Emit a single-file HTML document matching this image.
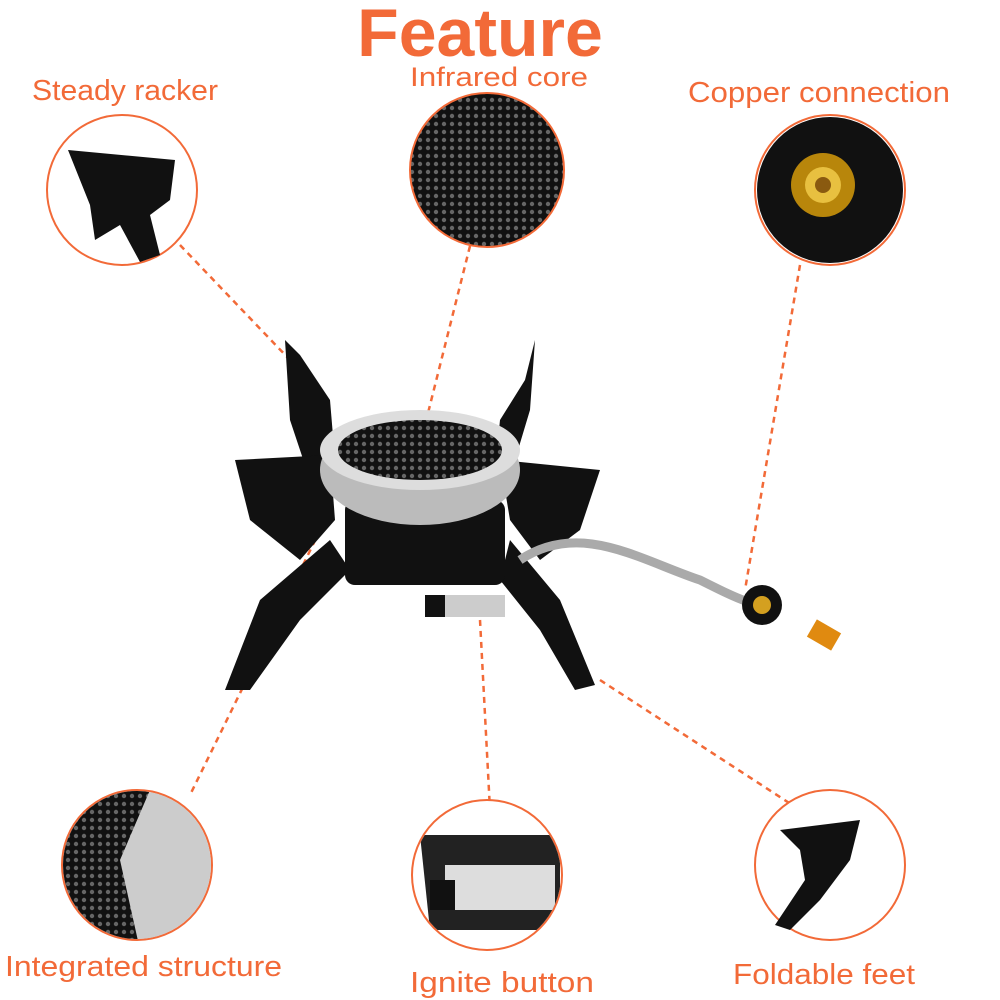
<!DOCTYPE html>
<html><head><meta charset="utf-8"><style>
html,body{margin:0;padding:0;background:#fff;width:1000px;height:1000px;overflow:hidden}
svg{display:block}
text{font-family:"Liberation Sans",sans-serif;fill:#f26a38}
</style></head><body>
<svg width="1000" height="1000" viewBox="0 0 1000 1000" xmlns="http://www.w3.org/2000/svg">
<defs>
<pattern id="hex" width="8" height="8" patternUnits="userSpaceOnUse">
<rect width="8" height="8" fill="#111"/><circle cx="4" cy="4" r="2.2" fill="#666"/>
</pattern>
<clipPath id="c4"><circle cx="137" cy="865" r="74"/></clipPath>
<clipPath id="c5"><circle cx="487" cy="875" r="74"/></clipPath>
</defs>
<text x="480" y="56" font-size="68" font-weight="bold" text-anchor="middle">Feature</text>
<text x="32" y="100" font-size="29" textLength="186" lengthAdjust="spacingAndGlyphs">Steady racker</text>
<text x="410" y="86" font-size="27" textLength="178" lengthAdjust="spacingAndGlyphs">Infrared core</text>
<text x="688" y="102" font-size="29" textLength="262" lengthAdjust="spacingAndGlyphs">Copper connection</text>
<text x="5" y="976" font-size="29" textLength="277" lengthAdjust="spacingAndGlyphs">Integrated structure</text>
<text x="410" y="992" font-size="29" textLength="184" lengthAdjust="spacingAndGlyphs">Ignite button</text>
<text x="733" y="984" font-size="29" textLength="182" lengthAdjust="spacingAndGlyphs">Foldable feet</text>

<g stroke="#f26a38" stroke-width="2.5" stroke-dasharray="6,5" fill="none">
<line x1="180" y1="245" x2="290" y2="360"/>
<line x1="470" y1="246" x2="425" y2="425"/>
<line x1="800" y1="265" x2="745" y2="590"/>
<line x1="330" y1="510" x2="190" y2="795"/>
<line x1="480" y1="620" x2="490" y2="810"/>
<line x1="600" y1="680" x2="800" y2="810"/>
</g>

<g stroke="#f26a38" stroke-width="2" fill="#fff">
<circle cx="122" cy="190" r="75"/>
<circle cx="830" cy="190" r="75"/>
<circle cx="137" cy="865" r="75"/>
<circle cx="487" cy="875" r="75"/>
<circle cx="830" cy="865" r="75"/>
</g>
<circle cx="487" cy="170" r="77" fill="url(#hex)" stroke="#f26a38" stroke-width="2"/>
<path d="M68 150 L175 160 L170 200 L150 215 L160 255 L140 262 L120 225 L95 240 L90 205 Z" fill="#111"/>
<circle cx="830" cy="190" r="73" fill="#111"/>
<circle cx="823" cy="185" r="32" fill="#b8860b"/>
<circle cx="823" cy="185" r="18" fill="#e8c040"/>
<circle cx="823" cy="185" r="8" fill="#8a5a10"/>
<g clip-path="url(#c4)"><rect x="60" y="790" width="160" height="160" fill="#ccc"/><path d="M60 790 L150 790 L120 860 L140 950 L60 950 Z" fill="url(#hex)"/></g>
<g clip-path="url(#c5)">
<path d="M420 835 L560 835 L560 930 L430 930 Z" fill="#222"/>
<rect x="445" y="865" width="110" height="45" fill="#ddd"/>
<rect x="430" y="880" width="25" height="30" fill="#111"/>
</g>
<path d="M780 830 L860 820 L850 860 L820 900 L790 930 L775 925 L805 880 L800 850 Z" fill="#111"/>

<g fill="#111">
<path d="M285 340 L300 355 L330 400 L335 460 L310 480 L290 420 Z"/>
<path d="M535 340 L525 380 L500 420 L495 470 L515 460 L530 410 Z"/>
<path d="M235 460 L330 455 L335 520 L300 560 L250 520 Z"/>
<path d="M500 460 L600 470 L580 530 L540 560 L510 520 Z"/>
<path d="M330 540 L260 600 L225 690 L250 690 L300 620 L350 570 Z"/>
<path d="M510 540 L560 600 L595 685 L575 690 L540 630 L500 580 Z"/>
<rect x="345" y="500" width="160" height="85" rx="10"/>
</g>
<path d="M520 560 C580 520 640 560 700 580 C740 600 760 610 770 600" stroke="#aaa" stroke-width="9" fill="none"/>
<circle cx="762" cy="605" r="20" fill="#111"/>
<circle cx="762" cy="605" r="9" fill="#d4a020"/>
<rect x="810" y="625" width="28" height="20" fill="#e08a10" transform="rotate(30 824 635)"/>
<ellipse cx="420" cy="470" rx="100" ry="55" fill="#bbb"/>
<ellipse cx="420" cy="450" rx="100" ry="40" fill="#ddd"/>
<ellipse cx="420" cy="450" rx="82" ry="30" fill="url(#hex)"/>
<rect x="425" y="595" width="80" height="22" fill="#ccc"/>
<rect x="425" y="595" width="20" height="22" fill="#111"/>
</svg>
</body></html>
